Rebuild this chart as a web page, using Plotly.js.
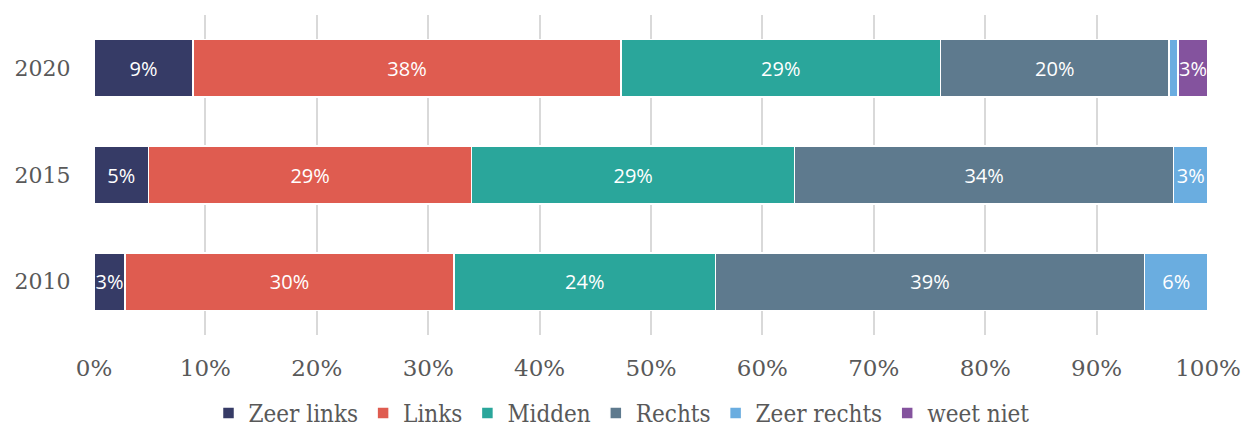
<!DOCTYPE html>
<html><head><meta charset="utf-8">
<script src="https://cdn.plot.ly/plotly-3.0.1.min.js"></script>
<style>html,body{margin:0;padding:0;background:#fff}#c{width:1243px;height:430px}</style>
</head><body><div id="c"></div>
<script>
const years = ['2010', '2015', '2020'];
const seriesNames = ['Zeer links', 'Links', 'Midden', 'Rechts', 'Zeer rechts', 'weet niet'];
const colors = ['#363b66', '#df5c50', '#2aa69b', '#5e7a8e', '#6aade0', '#84539e'];
const zeerLinks = [2.8, 4.9, 8.9];
const links = [29.5, 29.0, 38.4];
const midden = [23.5, 29.0, 28.7];
const rechts = [38.5, 34.0, 20.5];
const zeerRechts = [5.7, 3.1, 0.8];
const weetNiet = [0, 0, 2.7];
const labels = [
  ['3%', '5%', '9%'],
  ['30%', '29%', '38%'],
  ['24%', '29%', '29%'],
  ['39%', '34%', '20%'],
  ['6%', '3%', ''],
  ['', '', '3%']
];
const allVals = [zeerLinks, links, midden, rechts, zeerRechts, weetNiet];
const traces = allVals.map((v, i) => ({
  type: 'bar', orientation: 'h', name: seriesNames[i],
  y: years, x: v, text: labels[i],
  textposition: 'inside', insidetextanchor: 'middle', textangle: 0, constraintext: 'none',
  textfont: {family: 'Open Sans, sans-serif', size: 20, color: '#ffffff'},
  marker: {color: colors[i], line: {color: '#ffffff', width: 1.5}},
  hoverinfo: 'x+name', cliponaxis: false
}));
const layout = {
  width: 1243, height: 430,
  margin: {l: 94, r: 35, t: 15, b: 95, autoexpand: false},
  barmode: 'stack', bargap: 0.46,
  paper_bgcolor: '#fff', plot_bgcolor: '#fff',
  font: {family: 'DejaVu Serif, serif', color: '#595959'},
  xaxis: {range: [0, 100], dtick: 10, ticksuffix: '%', showgrid: true,
    gridcolor: '#d9d9d9', gridwidth: 2, zeroline: false, showline: false,
    tickfont: {size: 23, color: '#595959'}, ticks: 'outside', ticklen: 12,
    tickcolor: 'rgba(0,0,0,0)', automargin: false, fixedrange: true},
  yaxis: {categoryorder: 'array', categoryarray: years, showgrid: false, zeroline: false,
    tickfont: {size: 22, color: '#595959'}, ticks: 'outside', ticklen: 18,
    tickcolor: 'rgba(0,0,0,0)', automargin: false},
  legend: {orientation: 'h', x: 0.5, xanchor: 'center', xref: 'container',
    y: -0.245, yanchor: 'middle', yref: 'paper',
    font: {family: 'DejaVu Serif Condensed, DejaVu Serif, serif', size: 24, color: '#595959'},
    itemwidth: 20, tracegroupgap: 0, traceorder: 'normal'},
  showlegend: true
};
Plotly.newPlot('c', traces, layout, {displayModeBar: false, staticPlot: true});
</script></body></html>
